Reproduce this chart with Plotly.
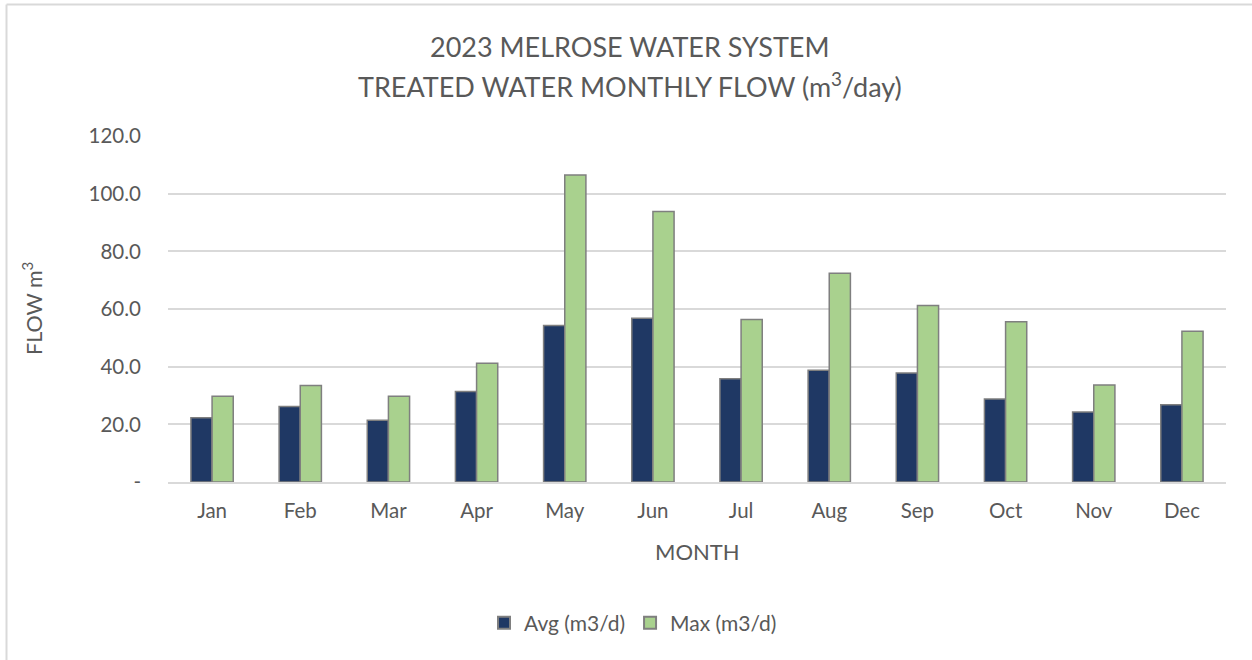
import plotly.graph_objects as go

months = ["Jan", "Feb", "Mar", "Apr", "May", "Jun", "Jul", "Aug", "Sep", "Oct", "Nov", "Dec"]
avg_flow = [22.3, 26.2, 21.4, 31.4, 54.3, 56.8, 35.8, 38.8, 37.8, 28.8, 24.3, 26.8]
max_flow = [29.7, 33.5, 29.7, 41.2, 106.5, 93.8, 56.4, 72.4, 61.2, 55.6, 33.6, 52.3]
y_ticks = [0, 20, 40, 60, 80, 100, 120]
y_tick_text = ["-", "20.0", "40.0", "60.0", "80.0", "100.0", "120.0"]

FONT = "Lato, Carlito, Calibri, sans-serif"
GREY = "#595959"

# plot-area geometry (pixels)
L, R, T, B = 168, 26, 136, 178
W, H = 1252, 660
pw, ph = W - L - R, H - T - B

def px_x(x):
    return (x - L) / pw

def px_y(y):
    return (H - B - y) / ph

fig = go.Figure()
fig.add_trace(go.Bar(
    x=months, y=avg_flow, name="Avg (m3/d)",
    marker=dict(color="#1F3864", line=dict(color="#7F7F7F", width=1.5)),
))
fig.add_trace(go.Bar(
    x=months, y=max_flow, name="Max (m3/d)",
    marker=dict(color="#A9D18E", line=dict(color="#7F7F7F", width=1.5)),
))

fig.update_layout(
    width=W, height=H,
    margin=dict(l=L, r=R, t=T, b=B),
    paper_bgcolor="white", plot_bgcolor="white",
    barmode="group", bargap=0.52, bargroupgap=0,
    font=dict(family=FONT, color=GREY, size=20),
    showlegend=True,
    legend=dict(
        orientation="h", x=px_x(633), xanchor="center",
        y=px_y(623), yanchor="middle",
        font=dict(size=21, color=GREY, family=FONT),
        itemsizing="constant", itemwidth=30,
    ),
    xaxis=dict(
        showgrid=False, showline=True, linecolor="#D9D9D9", linewidth=1.5,
        ticks="", tickfont=dict(size=20.5, color=GREY), ticklabelstandoff=10,
    ),
    yaxis=dict(
        range=[0, 120], tickvals=y_ticks, ticktext=y_tick_text,
        showgrid=True, gridcolor="#D9D9D9", gridwidth=1.5,
        zeroline=False, showline=False, ticks="",
        tickfont=dict(size=20.5, color=GREY), ticklabelstandoff=26,
    ),
    annotations=[
        dict(text="2023 MELROSE WATER SYSTEM", x=px_x(630), y=px_y(46),
             xref="paper", yref="paper", showarrow=False,
             xanchor="center", yanchor="middle",
             font=dict(size=27, color=GREY, family=FONT)),
        dict(text="TREATED WATER MONTHLY FLOW (m<sup>3</sup>/day)", x=px_x(630), y=px_y(85),
             xref="paper", yref="paper", showarrow=False,
             xanchor="center", yanchor="middle",
             font=dict(size=27, color=GREY, family=FONT)),
        dict(text="MONTH", x=0.5, y=px_y(551),
             xref="paper", yref="paper", showarrow=False,
             xanchor="center", yanchor="middle",
             font=dict(size=22, color=GREY, family=FONT)),
        dict(text="FLOW m<sup>3</sup>", x=px_x(32), y=px_y(309),
             xref="paper", yref="paper", showarrow=False, textangle=-90,
             xanchor="center", yanchor="middle",
             font=dict(size=21.5, color=GREY, family=FONT)),
    ],
    shapes=[
        dict(type="line", xref="paper", yref="paper",
             x0=px_x(6.5), x1=px_x(6.5), y0=px_y(4.5), y1=px_y(670),
             line=dict(color="#D9D9D9", width=2)),
        dict(type="line", xref="paper", yref="paper",
             x0=px_x(6.5), x1=px_x(1260), y0=px_y(4.5), y1=px_y(4.5),
             line=dict(color="#D9D9D9", width=2)),
    ],
)

fig.write_html("out.html", config={"displayModeBar": False},
               post_script="document.body.style.margin='0';")
